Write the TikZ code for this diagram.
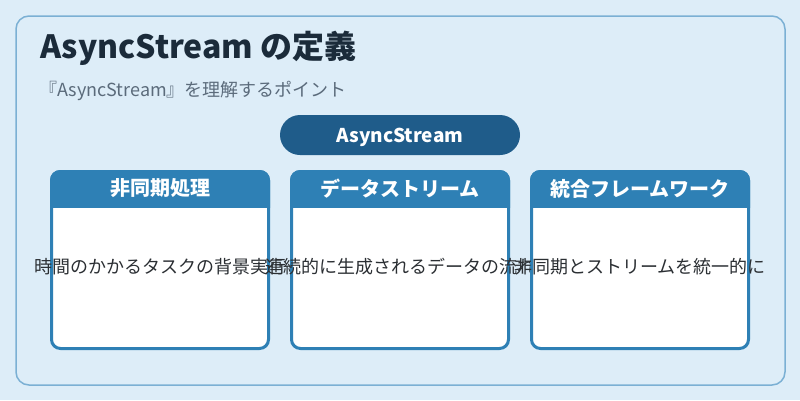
\documentclass[tikz,border=0pt]{standalone}
\usepackage{fontspec}
\setmainfont{Noto Sans CJK JP}
\definecolor{bgblue}{HTML}{DDEDF8}
\definecolor{frameblue}{HTML}{7BB0D4}
\definecolor{pillblue}{HTML}{1F5C8A}
\definecolor{headblue}{HTML}{2E80B5}
\definecolor{titleink}{HTML}{1B2B3A}
\definecolor{subink}{HTML}{5B6B7B}
\definecolor{bodyink}{HTML}{2B2F33}

\begin{document}
\begin{tikzpicture}[x=1pt,y=-1pt,
  card/.style={draw=headblue,line width=3pt,fill=white,rounded corners=9pt,minimum width=217pt,minimum height=177pt,inner sep=0pt},
  headtext/.style={text=white,font=\fontsize{20}{24}\selectfont\bfseries,inner sep=0pt},
  bodytext/.style={text=bodyink,font=\fontsize{18}{22}\selectfont,inner sep=0pt}]

\useasboundingbox (0,0) rectangle (800,400);
\fill[bgblue] (0,0) rectangle (800,400);
%Rahmen
\draw[draw=frameblue,line width=1.5pt,rounded corners=13pt] (16,16) rectangle (785,385);
\node[anchor=base west,inner sep=0pt,text=titleink,font=\fontsize{32}{36}\selectfont\bfseries] (title) at (40,58) {AsyncStream の定義};
\node[anchor=base west,inner sep=0pt,text=subink,font=\fontsize{18}{22}\selectfont] (subtitle) at (39,96) {『AsyncStream』を理解するポイント};

%Pille
\node[fill=pillblue,rounded corners=20pt,minimum width=240pt,minimum height=40pt,inner sep=0pt,text height=14pt,text depth=0pt,text=white,font=\fontsize{19}{23}\selectfont\bfseries] (pill) at (400,135) {AsyncStream};

%Karten
\foreach \n/\cx/\head/\body in {1/160/非同期処理/時間のかかるタスクの背景実行,2/400/データストリーム/連続的に生成されるデータの流れ,3/640/統合フレームワーク/非同期とストリームを統一的に}{
\node[card] (card\n) at (\cx,260) {};
\begin{scope}
\clip ({\cx-110},170) rectangle ({\cx+110},207);
\fill[headblue,rounded corners=10pt] ({\cx-110},170) rectangle ({\cx+110},230);
\end{scope}
\node[headtext] (head\n) at (\cx,188.5) {\head};
\node[bodytext] (body\n) at (\cx,267) {\body};
}
\end{tikzpicture}
\end{document}
